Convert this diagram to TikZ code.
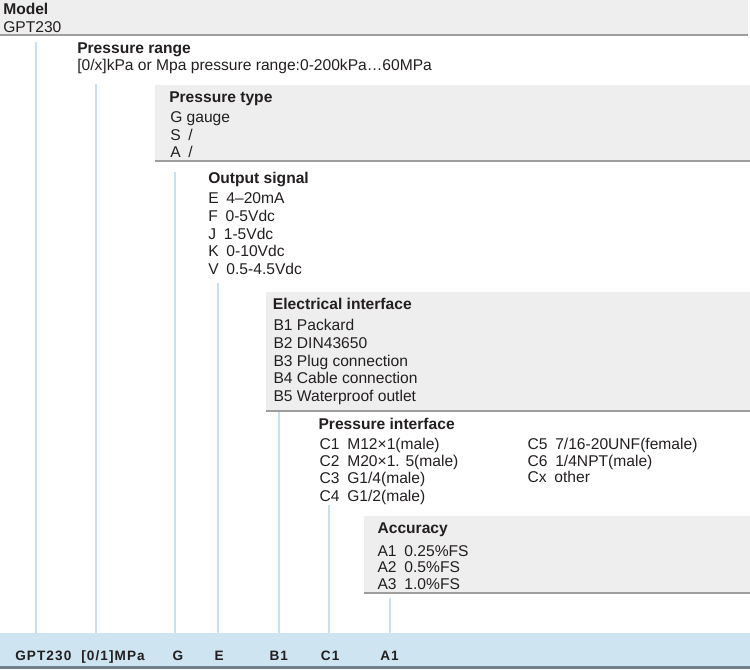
\documentclass[tikz,border=0pt]{standalone}
\usepackage{fontspec}
\setmainfont{Liberation Sans}
\usepackage{tikz}

\definecolor{boxgray}{RGB}{238,238,238}
\definecolor{rulegray}{RGB}{158,158,158}
\definecolor{leadblue}{RGB}{200,225,240}
\definecolor{barblue}{RGB}{206,228,240}
\definecolor{barrule}{RGB}{112,128,140}
\definecolor{ink}{RGB}{35,31,32}

\tikzset{
  head/.style={anchor=base west, inner sep=0, text=ink, font=\fontsize{11.7}{14}\selectfont\bfseries},
  item/.style={anchor=base west, inner sep=0, text=ink, font=\fontsize{11.7}{14}\selectfont},
  code/.style={anchor=base west, inner sep=0, text=ink, font=\fontsize{10.2}{12}\selectfont\bfseries\addfontfeature{LetterSpace=8}},
  lead/.style={draw=leadblue, line width=1.5},
  boxrule/.style={draw=rulegray, line width=2}
}

\begin{document}
\begin{tikzpicture}[x=0.75pt,y=0.75pt,yscale=-1,xscale=1]
\useasboundingbox (0,0) rectangle (750,669);

%Shape: Rectangle [model]
\fill [boxgray] (0,0) rectangle (748,35) ;
\draw [boxrule] (0,35) -- (748,35) ;
%Shape: Rectangle [pressure type]
\fill [boxgray] (155,85) rectangle (750,161) ;
\draw [boxrule] (155,161) -- (750,161) ;
%Shape: Rectangle [electrical interface]
\fill [boxgray] (266,292) rectangle (750,411) ;
\draw [boxrule] (266,411) -- (750,411) ;
%Shape: Rectangle [accuracy]
\fill [boxgray] (364,516) rectangle (750,593) ;
\draw [boxrule] (364,593) -- (750,593) ;
%Shape: Rectangle [code bar]
\fill [barblue] (0,633) rectangle (750,666) ;
\draw [draw=barrule, line width=2.25] (0,667.5) -- (750,667.5) ;
\coordinate (bar) at (0,633) ;

%Straight Lines
\coordinate (tmodel) at (36,42) ;
\coordinate (trange) at (96,84) ;
\coordinate (tptype) at (175,172) ;
\coordinate (tout) at (218,283) ;
\coordinate (telec) at (279,412) ;
\coordinate (tpint) at (328.5,505) ;
\coordinate (tacc) at (390,598) ;
\draw [lead] (tmodel) -- (tmodel |- bar) ;
\draw [lead] (trange) -- (trange |- bar) ;
\draw [lead] (tptype) -- (tptype |- bar) ;
\draw [lead] (tout) -- (tout |- bar) ;
\draw [lead] (telec) -- (telec |- bar) ;
\draw [lead] (tpint) -- (tpint |- bar) ;
\draw [lead] (tacc) -- (tacc |- bar) ;

% Text Node
\node [head] (model) at (3,14.3) {Model};
\node [item] (gpt) at (3,32) {GPT230};
% Text Node
\node [head] (range) at (77,53.3) {Pressure range};
\node [item] (rangeval) at (77,70) {[0/x]kPa or Mpa pressure range:0-200kPa…60MPa};
% Text Node
\node [head] (ptype) at (169,102) {Pressure type};
\node [item] (ptg) at (170,122.7) {G gauge};
\node [item] (pts) at (170,140) {S\enspace/};
\node [item] (pta) at (170,157.3) {A\enspace/};
% Text Node
\node [head] (out) at (208,183.3) {Output signal};
\node [item] (oute) at (208,203.3) {E\enspace 4–20mA};
\node [item] (outf) at (208,221.7) {F\enspace 0-5Vdc};
\node [item] (outj) at (208,239) {J\enspace 1-5Vdc};
\node [item] (outk) at (208,256.7) {K\enspace 0-10Vdc};
\node [item] (outv) at (208,274) {V\enspace 0.5-4.5Vdc};
% Text Node
\node [head] (elec) at (272.7,309) {Electrical interface};
\node [item] (elb1) at (273.3,330.7) {B1 Packard};
\node [item] (elb2) at (273.3,348.3) {B2 DIN43650};
\node [item] (elb3) at (273.3,366) {B3 Plug connection};
\node [item] (elb4) at (273.3,383.3) {B4 Cable connection};
\node [item] (elb5) at (273.3,401) {B5 Waterproof outlet};
% Text Node
\node [head] (pint) at (318.3,429.3) {Pressure interface};
\node [item] (pic1) at (319.3,449) {C1\enspace M12×1(male)};
\node [item] (pic2) at (319.3,466) {C2\enspace M20×1. 5(male)};
\node [item] (pic3) at (319.3,483.3) {C3\enspace G1/4(male)};
\node [item] (pic4) at (319.3,501) {C4\enspace G1/2(male)};
\node [item] (pic5) at (527.3,449) {C5\enspace 7/16-20UNF(female)};
\node [item] (pic6) at (527.3,466) {C6\enspace 1/4NPT(male)};
\node [item] (picx) at (527.3,482) {Cx\enspace other};
% Text Node
\node [head] (acc) at (377.3,533.3) {Accuracy};
\node [item] (aca1) at (377.3,556) {A1\enspace 0.25\%FS};
\node [item] (aca2) at (377.3,572.3) {A2\enspace 0.5\%FS};
\node [item] (aca3) at (377.3,589) {A3\enspace 1.0\%FS};

% Text Node
\node [code] (cmodel) at (15,660) {GPT230};
\node [code] (crange) at (81,660) {[0/1]MPa};
\node [code] (cptype) at (172.3,660) {G};
\node [code] (cout) at (214.3,660) {E};
\node [code] (celec) at (269.3,660) {B1};
\node [code] (cpint) at (320.7,660) {C1};
\node [code] (cacc) at (380,660) {A1};

\end{tikzpicture}
\end{document}
